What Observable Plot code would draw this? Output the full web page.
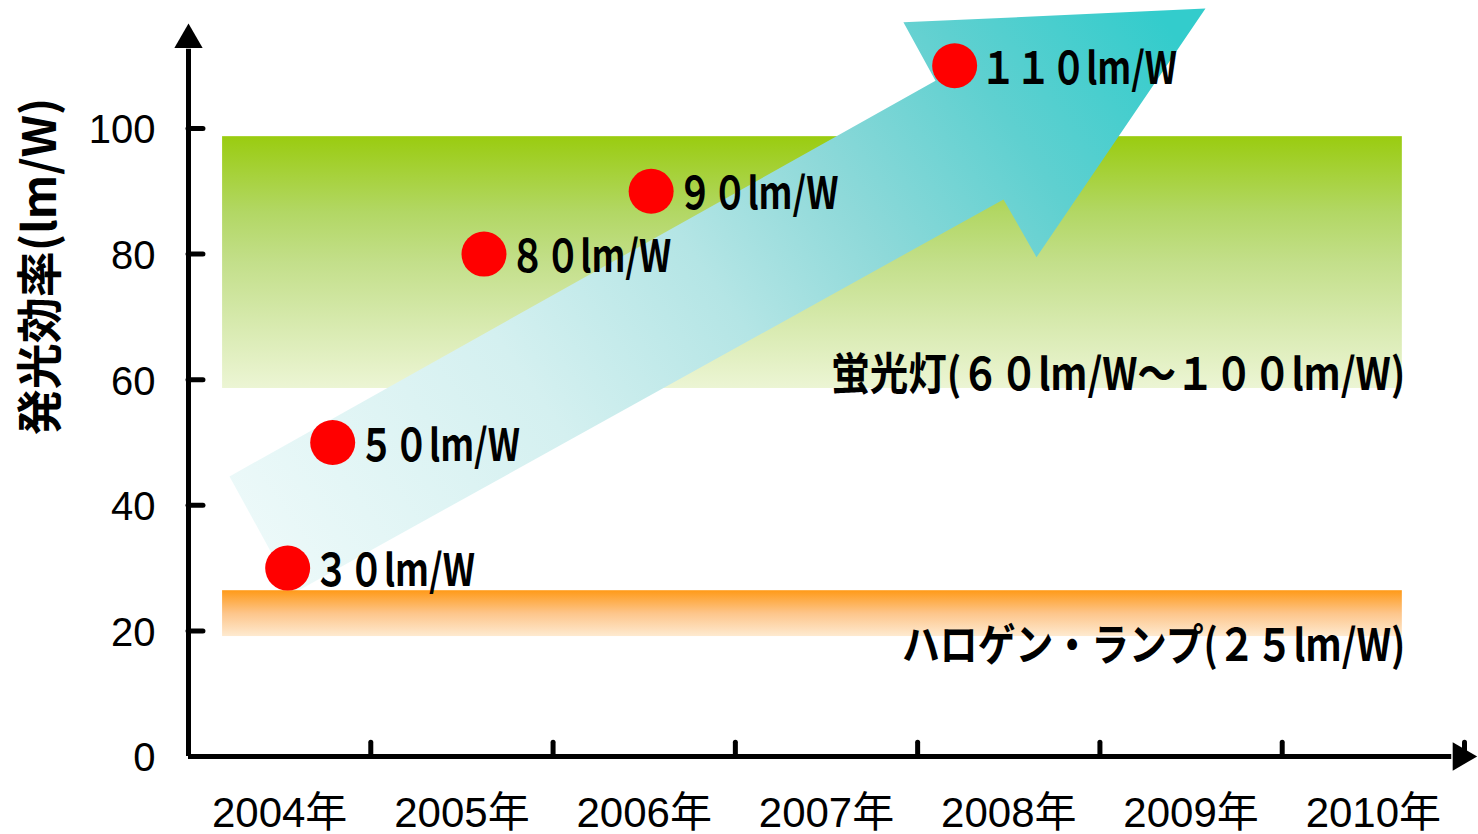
<!DOCTYPE html>
<html>
<head>
<meta charset="utf-8">
<script src="https://cdn.jsdelivr.net/npm/d3@7"></script>
<script src="https://cdn.jsdelivr.net/npm/@observablehq/plot@0.6"></script>
<style>
html, body { margin: 0; padding: 0; background: #fff; }
#chart svg { display: block; }
</style>
</head>
<body>
<div id="chart"></div>
<script>
// ---- data ----
const years = [2004, 2005, 2006, 2007, 2008, 2009, 2010];
const yearLabels = ["2004年", "2005年", "2006年", "2007年", "2008年", "2009年", "2010年"];
const yearTicks = [2005, 2006, 2007, 2008, 2009, 2010, 2011];
const yTicks = [0, 20, 40, 60, 80, 100];
const yTitle = "発光効率(lm/W)";

const pointX = [2004.544, 2004.791, 2005.621, 2006.538, 2008.203];
const pointY = [30, 50, 80, 90, 110];
const pointLabels = ["３０lm/W", "５０lm/W", "８０lm/W", "９０lm/W", "１１０lm/W"];

const bandNames = ["蛍光灯(６０lm/W～１００lm/W)", "ハロゲン・ランプ(２５lm/W)"];
const bandX1 = [2004.187, 2004.187];
const bandX2 = [2010.659, 2010.659];
const bandY1 = [58.6, 19.1];
const bandY2 = [98.7, 26.4];

// big trend arrow outline (year, lm/W)
const arrowX = [2004.225, 2008.098, 2007.922, 2009.579, 2008.652, 2008.471, 2004.576];
const arrowY = [44.6, 107.6, 116.9, 119.1, 79.5, 88.7, 26.0];
const arrowGradX = [2004.614, 2009.277];
const arrowGradY = [24.8, 120.4];

const axisXEnd = 2010.98;   // x-axis arrow head position
const axisYEnd = 114.1;     // y-axis arrow head position

// ---- derived tables ----
const points = pointX.map((x, i) => ({x, y: pointY[i], label: pointLabels[i]}));
const bands = bandNames.map((name, i) => ({name, x1: bandX1[i], x2: bandX2[i], y1: bandY1[i], y2: bandY2[i]}));
const arrow = arrowX.map((x, i) => ({x, y: arrowY[i]}));
const yearRows = years.map((y, i) => ({x: y + 0.5, label: yearLabels[i]}));

const CJK = "'Noto Sans CJK JP', 'Noto Sans', sans-serif";
const LAT = "'Liberation Sans', Arial, 'Noto Sans CJK JP', sans-serif";

const chart = Plot.plot({
  width: 1478,
  height: 834,
  marginLeft: 188,
  marginRight: 14,
  marginTop: 128,
  marginBottom: 78,
  style: {background: "#fff", overflow: "visible", fontFamily: LAT},
  x: {domain: [2004, 2011], axis: null},
  y: {domain: [0, 100], axis: null},
  marks: [
    // fluorescent band (under the arrow)
    Plot.rect([bands[0]], {x1: "x1", x2: "x2", y1: "y1", y2: "y2", fill: "url(#gGreen)"}),
    // trend arrow
    Plot.line(arrow, {x: "x", y: "y", fill: "url(#gArrow)", stroke: "none", curve: "linear"}),
    // halogen band (above the arrow)
    Plot.rect([bands[1]], {x1: "x1", x2: "x2", y1: "y1", y2: "y2", fill: "url(#gOrange)"}),
    // axes
    Plot.ruleX([2004], {y1: 0, y2: axisYEnd - 1.5, stroke: "#000", strokeWidth: 5}),
    Plot.ruleY([0], {x1: 2004, x2: axisXEnd - 0.05, stroke: "#000", strokeWidth: 5}),
    Plot.dot([0], {x: 2004, y: axisYEnd, symbol: "triangle", r: 10.5, fill: "#000", stroke: "none"}),
    Plot.dot([0], {x: axisXEnd, y: 0, symbol: "triangle", rotate: 90, r: 10.5, fill: "#000", stroke: "none"}),
    Plot.ruleX(yearTicks, {x: d => d, y1: 0, y2: 2.2, stroke: "#000", strokeWidth: 5, strokeLinecap: "round"}),
    Plot.ruleY(yTicks.filter(d => d > 0), {y: d => d, x1: 2004, x2: 2004.082, stroke: "#000", strokeWidth: 5, strokeLinecap: "round"}),
    // tick labels
    Plot.text(yTicks, {x: 2004, y: d => d, text: d => String(d), dx: -33, dy: 2, textAnchor: "end", fontSize: 40, fill: "#000", fontFamily: LAT}),
    Plot.text(yearRows, {x: "x", y: 0, text: "label", dy: 57, textAnchor: "middle", fontSize: 42, fill: "#000", fontFamily: LAT}),
    // y title
    Plot.text([yTitle], {frameAnchor: "left", dx: -147, dy: -176, rotate: -90, textAnchor: "middle", fontSize: 46, fontWeight: "bold", fill: "#000", fontFamily: CJK}),
    // band labels
    Plot.text([bands[0]], {x: "x2", y: "y1", text: "name", dx: 3, dy: -13, textAnchor: "end", fontSize: 44, fontWeight: "bold", fill: "#000", fontFamily: CJK}),
    Plot.text([bands[1]], {x: "x2", y: "y1", text: "name", dx: 3, dy: 10, textAnchor: "end", fontSize: 44, fontWeight: "bold", fill: "#000", fontFamily: CJK}),
    // points
    Plot.dot(points, {x: "x", y: "y", r: 22.5, fill: "#ff0000", stroke: "none"}),
    Plot.text(points, {x: "x", y: "y", text: "label", dx: 26, dy: 4, textAnchor: "start", fontSize: 44, fontWeight: "bold", fill: "#000", fontFamily: CJK})
  ]
});

// gradients
const svg = d3.select(chart);
const defs = svg.insert("defs", ":first-child");
function vGrad(id, stops) {
  const g = defs.append("linearGradient").attr("id", id)
    .attr("x1", 0).attr("y1", 0).attr("x2", 0).attr("y2", 1);
  stops.forEach(([o, c]) => g.append("stop").attr("offset", o).attr("stop-color", c));
}
vGrad("gGreen", [[0, "#9acc10"], [0.3, "#b2d764"], [0.5, "#c3df8a"], [1, "#ecf5d4"]]);
vGrad("gOrange", [[0, "#ff9a18"], [0.5, "#fdc58a"], [1, "#feead0"]]);

const sx = chart.scale("x"), sy = chart.scale("y");
const fx = d3.scaleLinear(sx.domain, sx.range), fy = d3.scaleLinear(sy.domain, sy.range);
const ag = defs.append("linearGradient").attr("id", "gArrow").attr("gradientUnits", "userSpaceOnUse")
  .attr("x1", fx(arrowGradX[0])).attr("y1", fy(arrowGradY[0]))
  .attr("x2", fx(arrowGradX[1])).attr("y2", fy(arrowGradY[1]));
[[0, "#ecf9f9"], [0.3, "#d4f0f0"], [0.5, "#b4e5e5"], [0.65, "#8ed9d9"], [0.82, "#5fd0d0"], [1, "#33cccc"]]
  .forEach(([o, c]) => ag.append("stop").attr("offset", o).attr("stop-color", c));

// horizontally condensed label lettering
const condense = new Map([
  ...pointLabels.map(s => [s, 0.8]),
  [bandNames[0], 0.875],
  [bandNames[1], 0.86]
]);
chart.querySelectorAll("text").forEach(t => {
  const s = condense.get(t.textContent);
  if (!s) return;
  const tr = t.getAttribute("transform");
  if (tr) t.setAttribute("transform", tr + ` scale(${s},1)`);
  else {
    const x = +(t.getAttribute("x") || 0);
    t.setAttribute("transform", `translate(${x},0) scale(${s},1) translate(${-x},0)`);
  }
});

document.getElementById("chart").appendChild(chart);
</script>
</body>
</html>
